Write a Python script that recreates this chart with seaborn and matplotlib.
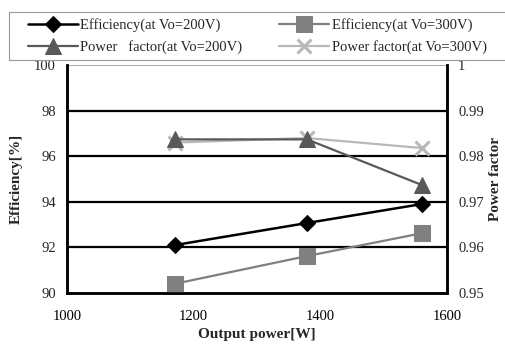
import pandas as pd
import matplotlib
matplotlib.use("Agg")
import matplotlib.pyplot as plt
import seaborn as sns
from matplotlib.patches import Rectangle

# Dane
power = [1170, 1379, 1560]
eff_200 = [92.1, 93.07, 93.9]
eff_300 = [90.4, 91.62, 92.62]
pf_200 = [0.9837, 0.9837, 0.9737]
pf_300 = [0.983, 0.9840, 0.9818]

x_ticks = [1000, 1200, 1400, 1600]
left_ticks = [90, 92, 94, 96, 98, 100]
right_ticks = [0.95, 0.96, 0.97, 0.98, 0.99, 1.0]
right_labels = ["0.95", "0.96", "0.97", "0.98", "0.99", "1"]

sns.set_style("white")
plt.rcParams['font.family'] = ['Liberation Serif', 'DejaVu Serif']

fig = plt.figure(figsize=(5.05, 3.5), dpi=100)
ax = fig.add_axes([0.1327, 0.163, 0.7525, 0.651])
ax2 = ax.twinx()

df_eff = pd.DataFrame({"P": power * 2,
                       "val": eff_200 + eff_300,
                       "s": ["200"] * 3 + ["300"] * 3})
df_pf = pd.DataFrame({"P": power * 2,
                      "val": pf_200 + pf_300,
                      "s": ["200"] * 3 + ["300"] * 3})

# Linie siatki
for y in left_ticks[1:-1]:
    ax.axhline(y, color="black", lw=1.6, zorder=1)
ax.axhline(100, color="#999999", lw=1.2, zorder=1)

sns.lineplot(data=df_eff[df_eff.s == "200"], x="P", y="val", ax=ax,
             color="black", marker="D", markersize=8.5, lw=1.8, mec="black",
             label="Efficiency(at Vo=200V)", legend=False, zorder=5)
sns.lineplot(data=df_eff[df_eff.s == "300"], x="P", y="val", ax=ax,
             color="#808080", marker="s", markersize=11, lw=1.6, mec="#808080",
             label="Efficiency(at Vo=300V)", legend=False, zorder=5)
sns.lineplot(data=df_pf[df_pf.s == "200"], x="P", y="val", ax=ax2,
             color="#595959", marker="^", markersize=11, lw=1.6, mec="#595959",
             label="Power   factor(at Vo=200V)", legend=False, zorder=4)
sns.lineplot(data=df_pf[df_pf.s == "300"], x="P", y="val", ax=ax2,
             color="#b8b8b8", marker="x", markersize=10, mew=2.2, lw=1.6, mec="#b8b8b8",
             label="Power factor(at Vo=300V)", legend=False, zorder=3)

ax.set_xlim(1000, 1600)
ax.set_ylim(90, 100)
ax2.set_ylim(0.95, 1.0)
ax.set_xticks(x_ticks)
ax.set_yticks(left_ticks)
ax2.set_yticks(right_ticks)
ax2.set_yticklabels(right_labels)

ax.tick_params(axis="x", direction="in", length=4, width=1.5, pad=12, labelsize=10.5, colors="black")
ax.tick_params(axis="y", length=0, pad=8, labelsize=10.5)
ax2.tick_params(axis="y", length=0, pad=8, labelsize=10.5)

for a in (ax, ax2):
    a.spines["top"].set_visible(False)
    for s in ("left", "right", "bottom"):
        a.spines[s].set_linewidth(1.8)
        a.spines[s].set_color("black")

ax.set_xlabel("Output power[W]", fontsize=11, fontweight="bold", labelpad=4)
ax.set_ylabel("Efficiency[%]", fontsize=11, fontweight="bold", labelpad=8)
ax2.set_ylabel("Power factor", fontsize=11, fontweight="bold", labelpad=4)

# Ramka legendy (otwarta z prawej strony)
fig.patches.append(Rectangle((9 / 505, 1 - 60 / 350), 1.0, 48 / 350,
                             transform=fig.transFigure, fill=False,
                             edgecolor="#999999", lw=0.8))

h1, l1 = ax.get_legend_handles_labels()
h2, l2 = ax2.get_legend_handles_labels()
handles = [h1[0], h2[0], h1[1], h2[1]]
labels = [l1[0], l2[0], l1[1], l2[1]]
leg = fig.legend(handles, labels, ncol=2, loc="upper left",
                 bbox_to_anchor=(28 / 505, 1 - 18 / 350), bbox_transform=fig.transFigure,
                 fontsize=10.5, frameon=False, borderaxespad=0, borderpad=0,
                 handlelength=3.4, handletextpad=0.2,
                 labelspacing=0.55, columnspacing=2.5)

fig.savefig("out.png", dpi=100)
